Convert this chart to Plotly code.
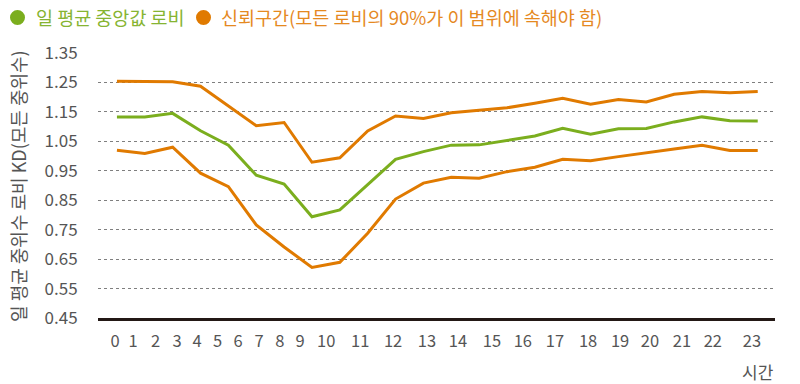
import plotly.graph_objects as go

# ---- data ----
HOURS = list(range(24))
TICK_LABELS = [str(h) for h in HOURS]
MEDIAN = [1.133, 1.133, 1.145, 1.086, 1.037, 0.935, 0.905, 0.794, 0.817, 0.902,
          0.989, 1.015, 1.037, 1.038, 1.054, 1.068, 1.094, 1.074, 1.093, 1.094,
          1.116, 1.133, 1.120, 1.119]
UPPER = [1.254, 1.254, 1.252, 1.237, 1.171, 1.103, 1.114, 0.979, 0.994, 1.085,
         1.136, 1.128, 1.147, 1.156, 1.164, 1.179, 1.196, 1.176, 1.192, 1.184,
         1.210, 1.219, 1.215, 1.219]
LOWER = [1.020, 1.009, 1.030, 0.942, 0.896, 0.766, 0.691, 0.622, 0.639, 0.738,
         0.854, 0.908, 0.928, 0.925, 0.947, 0.962, 0.989, 0.984, 0.998, 1.010,
         1.024, 1.037, 1.019, 1.019]
Y_TICKS = [0.45, 0.55, 0.65, 0.75, 0.85, 0.95, 1.05, 1.15, 1.25, 1.35]

# tick label placement along the axis, as laid out in the reference
TICK_POS = [-0.07, 0.58, 1.39, 2.16, 2.88, 3.61, 4.35, 5.10, 5.85, 6.57,
            7.51, 8.73, 9.91, 11.13, 12.24, 13.46, 14.57, 15.72, 16.91, 18.06,
            19.13, 20.28, 21.39, 22.79]

GREEN = "#7BAE1E"
ORANGE = "#E07A00"
GREEN_TXT = "#86B432"
ORANGE_TXT = "#E5891F"
GREY = "#555555"
FONT = "Noto Sans CJK KR"

fig = go.Figure()
fig.add_trace(go.Scatter(x=HOURS, y=UPPER, mode="lines",
                         line=dict(color=ORANGE, width=3), showlegend=False))
fig.add_trace(go.Scatter(x=HOURS, y=LOWER, mode="lines",
                         line=dict(color=ORANGE, width=3), showlegend=False))
fig.add_trace(go.Scatter(x=HOURS, y=MEDIAN, mode="lines",
                         line=dict(color=GREEN, width=3), showlegend=False))

fig.update_layout(
    width=800, height=384,
    margin=dict(l=98, r=25, t=53, b=66),
    paper_bgcolor="white", plot_bgcolor="white",
    font=dict(family=FONT, size=17, color=GREY),
    showlegend=False,
)
fig.update_xaxes(
    range=[-0.68, 23.62],
    tickmode="array", tickvals=TICK_POS, ticktext=TICK_LABELS,
    showgrid=False, zeroline=False,
    showline=True, linecolor="#231815", linewidth=2.5,
    ticks="outside", ticklen=6, tickcolor="rgba(0,0,0,0)",
    tickfont=dict(family=FONT, size=16.5, color=GREY),
)
fig.update_yaxes(
    range=[0.45, 1.35],
    tickmode="array", tickvals=Y_TICKS, ticktext=[f"{v:.2f}" for v in Y_TICKS],
    showgrid=True, gridcolor="#7f7f7f", gridwidth=1.3, griddash="dot",
    zeroline=False, showline=False,
    ticks="outside", ticklen=16, tickcolor="rgba(0,0,0,0)",
    tickfont=dict(family=FONT, size=17, color=GREY),
)

# y-axis title
fig.add_annotation(xref="paper", yref="paper", x=-0.119, y=0.5,
                   text="일 평균 중위수 로비 KD(모든 중위수)", textangle=-90,
                   showarrow=False, xanchor="center", yanchor="middle",
                   font=dict(family=FONT, size=18, color=GREY))
# x-axis title
fig.add_annotation(xref="paper", yref="paper", x=0.975, y=-0.2,
                   text="시간", showarrow=False, xanchor="center", yanchor="middle",
                   font=dict(family=FONT, size=17, color=GREY))

# legend (manual, coloured text)
fig.add_shape(type="circle", xref="paper", yref="paper",
              xsizemode="pixel", ysizemode="pixel",
              xanchor=0, yanchor=1, x0=-88, x1=-73, y0=28, y1=43,
              fillcolor=GREEN, line=dict(width=0))
fig.add_annotation(xref="paper", yref="paper", x=-0.0945, y=1.135,
                   text="일 평균 중앙값 로비", showarrow=False,
                   xanchor="left", yanchor="middle",
                   font=dict(family=FONT, size=18.5, color=GREEN_TXT))
fig.add_shape(type="circle", xref="paper", yref="paper",
              xsizemode="pixel", ysizemode="pixel",
              xanchor=0, yanchor=1, x0=98, x1=113, y0=28, y1=43,
              fillcolor=ORANGE, line=dict(width=0))
fig.add_annotation(xref="paper", yref="paper", x=0.1787, y=1.135,
                   text="신뢰구간(모든 로비의 90%가 이 범위에 속해야 함)", showarrow=False,
                   xanchor="left", yanchor="middle",
                   font=dict(family=FONT, size=18.5, color=ORANGE_TXT))

fig.write_html("out.html", config={"displayModeBar": False},
               post_script="document.body.style.margin='0';document.body.style.overflow='hidden';")
